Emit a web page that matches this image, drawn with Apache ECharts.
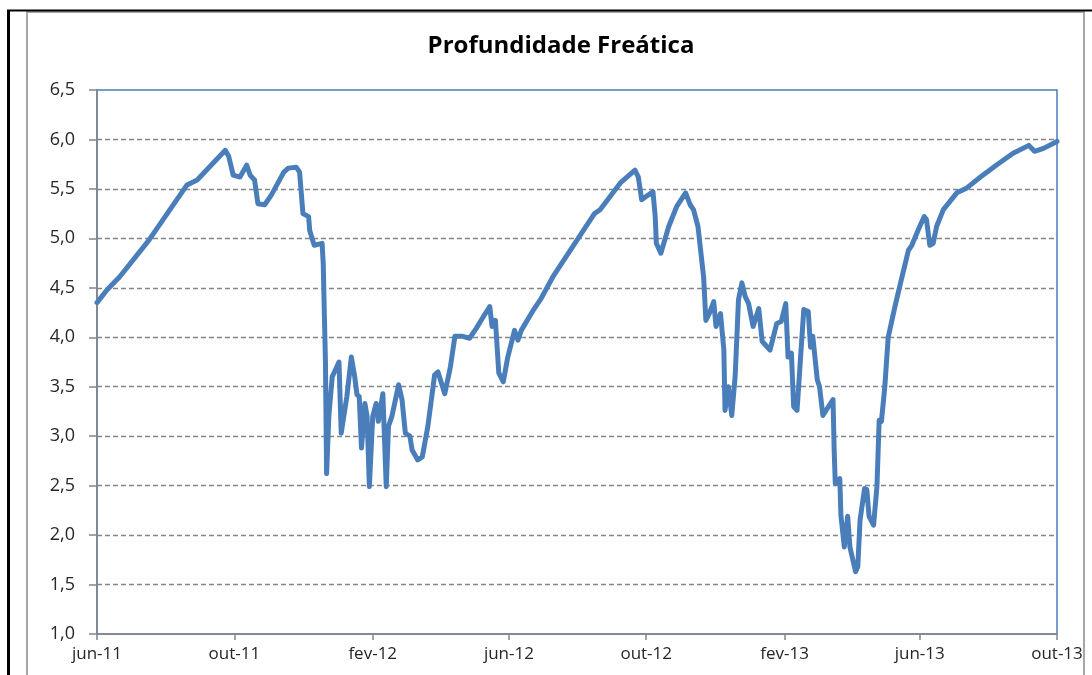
<!DOCTYPE html>
<html>
<head>
<meta charset="utf-8">
<script src="https://cdn.jsdelivr.net/npm/echarts@6/dist/echarts.min.js"></script>
<style>
html,body{margin:0;padding:0;background:#fff;}
#chart{width:1092px;height:675px;}
</style>
</head>
<body>
<div id="chart"></div>
<script>
const titleText = 'Profundidade Freática';

const dates = [
 '2011-06-01','2011-06-10','2011-06-21','2011-07-17','2011-08-20','2011-08-29','2011-09-23','2011-09-26','2011-09-30','2011-10-06',
 '2011-10-12','2011-10-15','2011-10-19','2011-10-22','2011-10-28','2011-11-03','2011-11-14','2011-11-18','2011-11-25','2011-11-28',
 '2011-12-01','2011-12-06','2011-12-07','2011-12-11','2011-12-18','2011-12-19','2011-12-21','2011-12-22','2011-12-24','2011-12-27',
 '2011-12-31','2012-01-02','2012-01-04','2012-01-09','2012-01-13','2012-01-16','2012-01-18','2012-01-20','2012-01-22','2012-01-25',
 '2012-01-27','2012-01-29','2012-02-01','2012-02-04','2012-02-06','2012-02-10','2012-02-13','2012-02-15','2012-02-18','2012-02-24',
 '2012-02-27','2012-03-01','2012-03-05','2012-03-07','2012-03-12','2012-03-16','2012-03-21','2012-03-27','2012-03-30','2012-04-05',
 '2012-04-10','2012-04-14','2012-04-21','2012-04-27','2012-05-03','2012-05-11','2012-05-15','2012-05-17','2012-05-20','2012-05-23',
 '2012-05-27','2012-05-31','2012-06-06','2012-06-09','2012-06-12','2012-06-23','2012-06-29','2012-07-10','2012-08-16','2012-08-21',
 '2012-09-08','2012-09-21','2012-09-24','2012-09-27','2012-10-03','2012-10-07','2012-10-09','2012-10-10','2012-10-14','2012-10-21',
 '2012-10-28','2012-11-05','2012-11-09','2012-11-12','2012-11-16','2012-11-21','2012-11-23','2012-11-26','2012-11-30','2012-12-02',
 '2012-12-06','2012-12-09','2012-12-10','2012-12-13','2012-12-16','2012-12-19','2012-12-22','2012-12-25','2012-12-28','2012-12-31',
 '2013-01-04','2013-01-09','2013-01-12','2013-01-19','2013-01-25','2013-01-29','2013-02-02','2013-02-04','2013-02-07','2013-02-09',
 '2013-02-12','2013-02-15','2013-02-18','2013-02-22','2013-02-24','2013-02-26','2013-03-02','2013-03-04','2013-03-07','2013-03-12',
 '2013-03-16','2013-03-17','2013-03-18','2013-03-22','2013-03-23','2013-03-26','2013-03-29','2013-03-31','2013-04-05','2013-04-07',
 '2013-04-09','2013-04-13','2013-04-15','2013-04-17','2013-04-21','2013-04-24','2013-04-26','2013-04-28','2013-05-01','2013-05-04',
 '2013-05-10','2013-05-15','2013-05-22','2013-05-25','2013-06-01','2013-06-05','2013-06-07','2013-06-10','2013-06-13','2013-06-16',
 '2013-06-22','2013-07-04','2013-07-13','2013-07-25','2013-08-08','2013-08-23','2013-09-06','2013-09-11','2013-09-19','2013-10-01'
];

const depth = [
 4.35,4.48,4.61,4.98,5.54,5.59,5.89,5.83,5.64,5.62,
 5.74,5.64,5.59,5.35,5.34,5.44,5.67,5.71,5.72,5.67,
 5.25,5.22,5.08,4.93,4.95,4.75,3.74,2.62,3.20,3.60,
 3.70,3.75,3.03,3.40,3.80,3.60,3.42,3.40,2.88,3.33,
 3.20,2.49,3.20,3.33,3.15,3.43,2.49,3.10,3.20,3.52,
 3.37,3.03,3.00,2.86,2.76,2.79,3.10,3.62,3.65,3.43,
 3.70,4.01,4.01,3.99,4.09,4.24,4.31,4.11,4.17,3.64,
 3.55,3.80,4.07,3.97,4.07,4.28,4.38,4.61,5.25,5.29,
 5.56,5.69,5.62,5.39,5.44,5.47,5.22,4.95,4.85,5.12,
 5.32,5.46,5.34,5.29,5.12,4.61,4.17,4.24,4.36,4.11,
 4.24,3.87,3.26,3.50,3.21,3.60,4.38,4.55,4.41,4.34,
 4.11,4.29,3.96,3.87,4.14,4.16,4.34,3.80,3.84,3.30,
 3.26,3.77,4.28,4.26,3.90,4.01,3.57,3.50,3.21,3.30,
 3.37,2.86,2.52,2.57,2.20,1.88,2.19,1.88,1.63,1.68,
 2.15,2.47,2.46,2.19,2.10,2.49,3.16,3.15,3.50,4.00,
 4.31,4.55,4.88,4.93,5.12,5.22,5.19,4.93,4.95,5.12,
 5.29,5.46,5.51,5.62,5.74,5.86,5.94,5.88,5.91,5.98
];

const tickDates = ['2011-06-01','2011-10-01','2012-02-01','2012-06-01','2012-10-01','2013-02-01','2013-06-01','2013-10-01'];
const tickLabels = ['jun-11','out-11','fev-12','jun-12','out-12','fev-13','jun-13','out-13'];

const yMin = 1.0, yMax = 6.5, yStep = 0.5;

const toTs = s => { const p = s.split('-').map(Number); return Date.UTC(p[0], p[1] - 1, p[2]); };
const tickTs = tickDates.map(toTs);
const seriesData = dates.map((d, i) => [toTs(d), depth[i]]);

const chart = echarts.init(document.getElementById('chart'), null, {renderer: 'canvas'});
const labelFont = '"Open Sans", Lato, sans-serif';
const gridColor = '#858585';
const textColor = '#262626';

chart.setOption({
  animation: false,
  backgroundColor: '#fff',
  title: {
    text: titleText,
    left: 556,
    textAlign: 'center',
    top: 29,
    textStyle: {fontFamily: labelFont, fontWeight: 'bold', fontSize: 24, color: '#000'}
  },
  graphic: [
    {type: 'rect', shape: {x: 27, y: 12, width: 1057, height: 700}, style: {fill: null, stroke: '#a6a6a6', lineWidth: 2}, silent: true},
    {type: 'line', shape: {x1: 8.5, y1: 10, x2: 8.5, y2: 675}, style: {stroke: '#000', lineWidth: 3}, silent: true},
    {type: 'line', shape: {x1: 7, y1: 10.5, x2: 1092, y2: 10.5}, style: {stroke: '#000', lineWidth: 2}, silent: true}
  ],
  grid: {
    left: 97, right: 35, top: 90, bottom: 41,
    show: true, borderColor: '#4a7ebb', borderWidth: 1.5, backgroundColor: 'transparent'
  },
  xAxis: {
    type: 'value',
    min: tickTs[0],
    max: tickTs[tickTs.length - 1],
    axisLine: {show: true, lineStyle: {color: gridColor, width: 1.5}},
    axisTick: {show: true, customValues: tickTs, length: 6, lineStyle: {color: gridColor, width: 1.5}},
    axisLabel: {
      customValues: tickTs,
      margin: 12,
      fontFamily: labelFont, fontSize: 17, color: textColor,
      formatter: function (v) {
        const i = tickTs.indexOf(v);
        return i >= 0 ? tickLabels[i] : '';
      }
    },
    splitLine: {show: false}
  },
  yAxis: {
    type: 'value',
    min: yMin, max: yMax, interval: yStep,
    axisLine: {show: true, lineStyle: {color: gridColor, width: 1.5}},
    axisTick: {show: true, inside: false, length: 8, lineStyle: {color: gridColor, width: 1.5}},
    axisLabel: {
      margin: 22,
      fontFamily: labelFont, fontSize: 18, color: textColor,
      formatter: v => v.toFixed(1).replace('.', ',')
    },
    splitLine: {show: true, showMaxLine: false, showMinLine: false, lineStyle: {color: gridColor, type: [5, 3], width: 1.3}}
  },
  series: [{
    type: 'line',
    data: seriesData,
    showSymbol: false,
    symbol: 'none',
    lineStyle: {color: '#4a7ebb', width: 5, cap: 'round', join: 'round'},
    itemStyle: {color: '#4a7ebb'}
  }]
});
</script>
</body>
</html>
